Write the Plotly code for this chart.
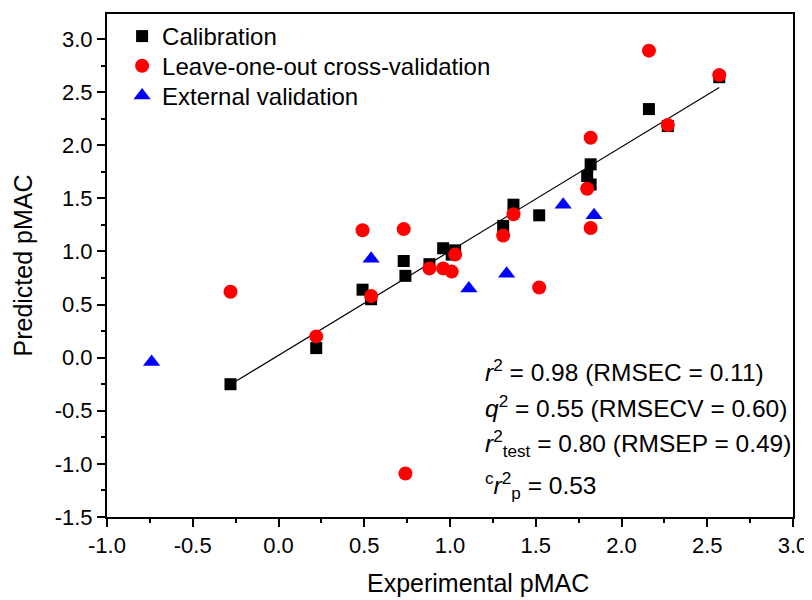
import numpy as np
import plotly.graph_objects as go

# Calibration set (experimental, predicted)
cal_x = [-0.28, 0.22, 0.49, 0.54, 0.73, 0.74, 0.88, 0.96, 1.01, 1.03, 1.31, 1.37, 1.52, 1.80, 1.82, 1.82, 2.16, 2.27, 2.57]
cal_y = [-0.25, 0.09, 0.64, 0.55, 0.91, 0.77, 0.88, 1.03, 0.97, 1.01, 1.24, 1.44, 1.34, 1.71, 1.82, 1.63, 2.34, 2.18, 2.64]

# Leave-one-out cross-validation predictions
loo_x = [-0.28, 0.22, 0.49, 0.54, 0.73, 0.74, 0.88, 0.96, 1.01, 1.03, 1.31, 1.37, 1.52, 1.80, 1.82, 1.82, 2.16, 2.27, 2.57]
loo_y = [0.62, 0.20, 1.20, 0.58, 1.21, -1.09, 0.84, 0.84, 0.81, 0.97, 1.15, 1.35, 0.66, 1.59, 2.07, 1.22, 2.89, 2.19, 2.66]

# External validation (test set)
ext_x = [-0.74, 0.54, 1.11, 1.33, 1.66, 1.84]
ext_y = [-0.04, 0.93, 0.65, 0.79, 1.44, 1.34]

x_ticks = [-1.0, -0.5, 0.0, 0.5, 1.0, 1.5, 2.0, 2.5, 3.0]
y_ticks = [-1.5, -1.0, -0.5, 0.0, 0.5, 1.0, 1.5, 2.0, 2.5, 3.0]

stats_lines = [
    "<i>r</i><sup>2</sup> = 0.98 (RMSEC = 0.11)",
    "<i>q</i><sup>2</sup> = 0.55 (RMSECV = 0.60)",
    "<i>r</i><sup>2</sup><sub>test</sub> = 0.80 (RMSEP = 0.49)",
    "<sup>c</sup><i>r</i><sup>2</sup><sub>p</sub> = 0.53",
]

FONT = "Liberation Sans, Arial, sans-serif"

slope, intercept = np.polyfit(cal_x, cal_y, 1)
lx = np.array([min(cal_x), max(cal_x)])
ly = slope * lx + intercept

fig = go.Figure()
fig.add_trace(go.Scatter(x=lx, y=ly, mode="lines", line=dict(color="black", width=1.2),
                         showlegend=False, hoverinfo="skip"))
fig.add_trace(go.Scatter(x=cal_x, y=cal_y, mode="markers", name="Calibration", legend="legend",
                         marker=dict(symbol="square", size=12, color="black")))
fig.add_trace(go.Scatter(x=loo_x, y=loo_y, mode="markers", name="Leave-one-out cross-validation",
                         legend="legend2",
                         marker=dict(symbol="circle", size=14, color="#ff0000")))
fig.add_trace(go.Scatter(x=ext_x, y=ext_y, mode="markers", name="External validation",
                         legend="legend3",
                         marker=dict(symbol="triangle-up", size=15, color="#0000ff")))

axis_common = dict(
    showline=True, linecolor="black", linewidth=2, mirror=True,
    ticks="outside", ticklen=8, tickwidth=2, tickcolor="black",
    showgrid=False, zeroline=False,
    tickfont=dict(family=FONT, size=22, color="black"),
    minor=dict(ticks="outside", ticklen=4, tickwidth=2, tickcolor="black", showgrid=False),
)

fig.update_xaxes(range=[-1.0, 3.0], tickvals=x_ticks, ticktext=[f"{v:.1f}" for v in x_ticks],
                 minor_dtick=0.25, minor_tick0=0, **axis_common)
fig.update_yaxes(range=[-1.5, 3.235], tickvals=y_ticks, ticktext=[f"{v:.1f}" for v in y_ticks],
                 minor_dtick=0.25, minor_tick0=0,
                 title=dict(text="Predicted pMAC", font=dict(family=FONT, size=25, color="black"), standoff=15),
                 **axis_common)

fig.add_annotation(xref="paper", yref="paper", x=0.541, y=-0.131, xanchor="center", yanchor="middle",
                   text="Experimental pMAC", showarrow=False,
                   font=dict(family=FONT, size=25, color="black"))

ys = [0.291, 0.220, 0.147, 0.062]
for t, yy in zip(stats_lines, ys):
    fig.add_annotation(xref="paper", yref="paper", x=0.548, y=yy, xanchor="left", yanchor="middle",
                       text=t, showarrow=False, font=dict(family=FONT, size=24.5, color="black"))

leg_common = dict(x=0.022, xanchor="left", yanchor="top", bgcolor="rgba(0,0,0,0)",
                  font=dict(family=FONT, size=24, color="black"), itemwidth=30)

fig.update_layout(
    width=804, height=592,
    margin=dict(l=99, r=19, t=4, b=83),
    paper_bgcolor="white", plot_bgcolor="white",
    legend=dict(y=1.0, **leg_common),
    legend2=dict(y=0.941, **leg_common),
    legend3=dict(y=0.882, **leg_common),
    font=dict(family=FONT, color="black"),
)

fig.write_html("out.html")
